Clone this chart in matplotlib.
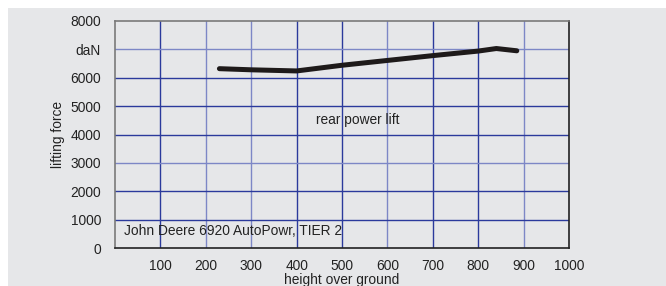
import matplotlib.pyplot as plt
from matplotlib.patches import Rectangle

plt.rcParams['font.family'] = ['Liberation Sans', 'DejaVu Sans']

# curve
height = [230, 300, 400, 500, 600, 700, 800, 840, 885]
force = [6320, 6280, 6240, 6440, 6610, 6780, 6940, 7030, 6950]

xticks = [100, 200, 300, 400, 500, 600, 700, 800, 900, 1000]
yticks = [0, 1000, 2000, 3000, 4000, 5000, 6000, 7000, 8000]
ylabels = ['0', '1000', '2000', '3000', '4000', '5000', '6000', 'daN', '8000']

W, H = 666, 286
fig = plt.figure(figsize=(W / 100, H / 100), dpi=100)
fig.patches.append(Rectangle((8 / W, 0), 1, (H - 8) / H, transform=fig.transFigure,
                             facecolor='#e6e7e9', edgecolor='none', zorder=-5))

ax = fig.add_axes([115 / W, (H - 248) / H, (569 - 115) / W, (248 - 21) / H])
ax.set_facecolor('#e6e7e9')
ax.set_xlim(0, 1000)
ax.set_ylim(0, 8000)

dark = '#2b3a9c'
light = '#7d87c6'
for x in xticks[:-1]:
    c = light if x in (200, 300, 600, 900) else dark
    ax.axvline(x, color=c, lw=1.0, zorder=1)
for y in yticks[1:-1]:
    c = light if y in (3000, 7000) else dark
    ax.axhline(y, color=c, lw=1.0, zorder=1)

ax.plot(height, force, color='#1e1a1a', lw=3.6, solid_capstyle='round',
        solid_joinstyle='round', zorder=3)

fs = 9.9
ax.set_xticks(xticks)
ax.set_yticks(yticks)
ax.set_yticklabels(ylabels)
ax.tick_params(length=0, labelsize=fs, colors='#222222')
ax.tick_params(axis='x', pad=8)
ax.tick_params(axis='y', pad=10)

for s in ('left', 'top'):
    ax.spines[s].set_color('#7a7a7a')
for s in ('right', 'bottom'):
    ax.spines[s].set_color('#222222')
for s in ax.spines.values():
    s.set_linewidth(1.2)
    s.set_zorder(4)

ax.text(443, 4500, 'rear power lift', fontsize=fs, color='#222222', va='center')
ax.text(20, 600, 'John Deere 6920 AutoPowr, TIER 2', fontsize=fs, color='#222222', va='center')

ax.set_xlabel('height over ground', fontsize=fs, color='#222222', labelpad=0)
ax.set_ylabel('lifting force', fontsize=fs, color='#222222', labelpad=4)

fig.savefig('out.png', dpi=100, facecolor='white')
